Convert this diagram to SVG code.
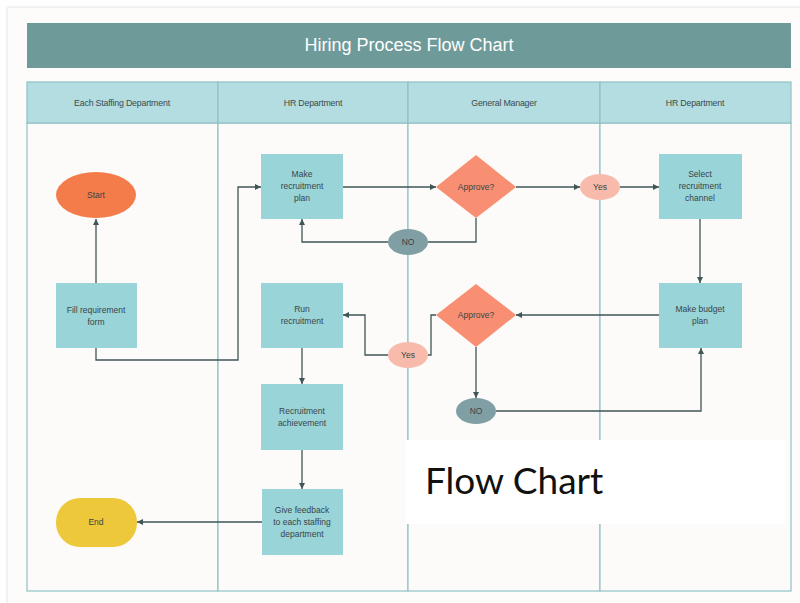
<svg xmlns="http://www.w3.org/2000/svg" width="800" height="603" viewBox="0 0 800 603">
  <style>
    .lane { fill: #fcfbf9; stroke: #8fc1c5; stroke-width: 1.2; }
    .head { fill: #b3dde1; stroke: #8fc1c5; stroke-width: 1.2; }
    .headtxt { font-family: "Liberation Sans", Arial, sans-serif; font-size: 8.8px; letter-spacing: -0.2px; fill: #3c4a4c; text-anchor: middle; }
    .proc { fill: #99d4d9; }
    .dec { fill: #f98f72; }
    .yes { fill: #f8bbab; }
    .no { fill: #809fa4; }
    .lbl { font-family: "Liberation Sans", Arial, sans-serif; font-size: 8.5px; fill: #3a4446; text-anchor: middle; }
    .edge { fill: none; stroke: #3f5656; stroke-width: 1.3; }
  </style>
  <defs>
    <marker id="arrow" markerUnits="userSpaceOnUse" markerWidth="7" markerHeight="7" refX="6" refY="3" orient="auto">
      <path d="M0,0 L6,3 L0,6 z" fill="#3f5656"/>
    </marker>
    <filter id="soft" x="-5%" y="-5%" width="110%" height="110%">
      <feGaussianBlur stdDeviation="1.5"/>
    </filter>
  </defs>

  <!-- page card -->
  <rect x="0" y="0" width="800" height="603" fill="#ffffff"/>
  <rect x="7" y="7" width="800" height="600" fill="#e4e4e4" filter="url(#soft)"/>
  <rect x="8" y="8" width="800" height="600" fill="#fdfcfb"/>

  <!-- title bar -->
  <g id="title">
    <rect x="27" y="23" width="764" height="45" fill="#6e9b99"/>
    <text x="409" y="51" font-family="Liberation Sans, Arial, sans-serif" font-size="18" fill="#ffffff" text-anchor="middle">Hiring Process Flow Chart</text>
  </g>

  <!-- swimlanes -->
  <g id="lanes">
    <rect class="lane" x="27" y="123" width="191" height="468"/>
    <rect class="lane" x="218" y="123" width="190" height="468"/>
    <rect class="lane" x="408" y="123" width="192" height="468"/>
    <rect class="lane" x="600" y="123" width="191" height="468"/>
    <rect class="head" x="27" y="82" width="191" height="41"/>
    <rect class="head" x="218" y="82" width="190" height="41"/>
    <rect class="head" x="408" y="82" width="192" height="41"/>
    <rect class="head" x="600" y="82" width="191" height="41"/>
    <text class="headtxt" x="122" y="106">Each Staffing Department</text>
    <text class="headtxt" x="313" y="106">HR Department</text>
    <text class="headtxt" x="504" y="106">General Manager</text>
    <text class="headtxt" x="695" y="106">HR Department</text>
  </g>

  <!-- connectors -->
  <g id="connectors">
    <path class="edge" d="M96,283 L96,219" marker-end="url(#arrow)"/>
    <path class="edge" d="M96,348 L96,360 L238,360 L238,187 L261,187" marker-end="url(#arrow)"/>
    <path class="edge" d="M343,187 L436,187" marker-end="url(#arrow)"/>
    <path class="edge" d="M516,187 L580,187" marker-end="url(#arrow)"/>
    <path class="edge" d="M620,187 L659,187" marker-end="url(#arrow)"/>
    <path class="edge" d="M476,218 L476,242 L428,242"/>
    <path class="edge" d="M388,242 L302,242 L302,219" marker-end="url(#arrow)"/>
    <path class="edge" d="M700,219 L700,283" marker-end="url(#arrow)"/>
    <path class="edge" d="M659,315 L516,315" marker-end="url(#arrow)"/>
    <path class="edge" d="M436,315 L431,315 L431,355 L428,355"/>
    <path class="edge" d="M388,355 L365,355 L365,315 L343,315" marker-end="url(#arrow)"/>
    <path class="edge" d="M476,347 L476,398" marker-end="url(#arrow)"/>
    <path class="edge" d="M496,411 L701,411 L701,348" marker-end="url(#arrow)"/>
    <path class="edge" d="M302,348 L302,384" marker-end="url(#arrow)"/>
    <path class="edge" d="M302,450 L302,489" marker-end="url(#arrow)"/>
    <path class="edge" d="M262,522 L137,522" marker-end="url(#arrow)"/>
  </g>

  <!-- nodes -->
  <g id="start">
    <ellipse cx="96" cy="195" rx="40" ry="23" fill="#f47c4b"/>
    <text class="lbl" x="96" y="198">Start</text>
  </g>
  <g id="fill-form">
    <rect class="proc" x="56" y="283" width="81" height="65"/>
    <text class="lbl" x="96" y="313">Fill requirement</text>
    <text class="lbl" x="96" y="325">form</text>
  </g>
  <g id="make-plan">
    <rect class="proc" x="261" y="154" width="82" height="65"/>
    <text class="lbl" x="302" y="177">Make</text>
    <text class="lbl" x="302" y="189">recruitment</text>
    <text class="lbl" x="302" y="201">plan</text>
  </g>
  <g id="approve-1">
    <polygon class="dec" points="476,155 516,187 476,218 436,187"/>
    <text class="lbl" x="476" y="190">Approve?</text>
  </g>
  <g id="yes-1">
    <ellipse class="yes" cx="600" cy="187" rx="20" ry="13"/>
    <text class="lbl" x="600" y="190">Yes</text>
  </g>
  <g id="no-1">
    <ellipse class="no" cx="408" cy="242" rx="20" ry="13"/>
    <text class="lbl" x="408" y="245">NO</text>
  </g>
  <g id="select-channel">
    <rect class="proc" x="659" y="154" width="83" height="65"/>
    <text class="lbl" x="700" y="177">Select</text>
    <text class="lbl" x="700" y="189">recruitment</text>
    <text class="lbl" x="700" y="201">channel</text>
  </g>
  <g id="budget-plan">
    <rect class="proc" x="659" y="283" width="83" height="65"/>
    <text class="lbl" x="700" y="312">Make budget</text>
    <text class="lbl" x="700" y="324">plan</text>
  </g>
  <g id="approve-2">
    <polygon class="dec" points="476,284 516,315 476,347 436,315"/>
    <text class="lbl" x="476" y="318">Approve?</text>
  </g>
  <g id="yes-2">
    <ellipse class="yes" cx="408" cy="355" rx="20" ry="13"/>
    <text class="lbl" x="408" y="358">Yes</text>
  </g>
  <g id="no-2">
    <ellipse class="no" cx="476" cy="411" rx="20" ry="13"/>
    <text class="lbl" x="476" y="414">NO</text>
  </g>
  <g id="run-recruitment">
    <rect class="proc" x="261" y="283" width="82" height="65"/>
    <text class="lbl" x="302" y="312">Run</text>
    <text class="lbl" x="302" y="324">recruitment</text>
  </g>
  <g id="achievement">
    <rect class="proc" x="261" y="384" width="82" height="66"/>
    <text class="lbl" x="302" y="414">Recruitment</text>
    <text class="lbl" x="302" y="426">achievement</text>
  </g>
  <g id="feedback">
    <rect class="proc" x="262" y="489" width="81" height="66"/>
    <text class="lbl" x="302" y="513">Give feedback</text>
    <text class="lbl" x="302" y="525">to each staffing</text>
    <text class="lbl" x="302" y="537">department</text>
  </g>
  <g id="end">
    <rect x="56" y="498" width="81" height="49" rx="24" ry="24" fill="#edc83b"/>
    <text class="lbl" x="96" y="525">End</text>
  </g>

  <!-- caption panel -->
  <g id="caption">
    <rect x="406" y="440" width="379" height="84" fill="#ffffff"/>
    <text x="425" y="494" font-family="Lato, 'Open Sans', sans-serif" font-size="37" fill="#111111">Flow Chart</text>
  </g>
</svg>
